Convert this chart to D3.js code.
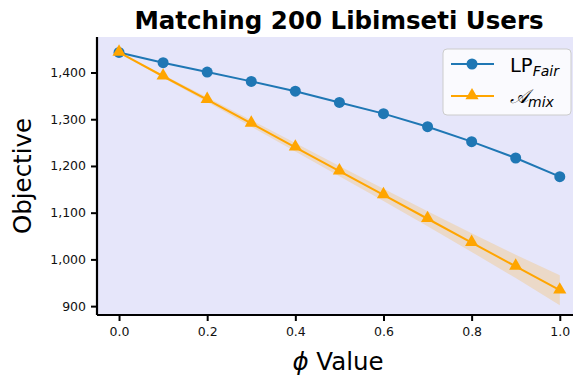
<!DOCTYPE html>
<html>
<head>
<meta charset="utf-8">
<script src="https://cdn.jsdelivr.net/npm/d3@7"></script>
<style>
  body { margin: 0; background: #fff; }
  text { font-family: "DejaVu Sans", sans-serif; }
</style>
</head>
<body>
<svg id="chart" width="575" height="375"></svg>
<script>
// data
const phi = [0.0, 0.1, 0.2, 0.3, 0.4, 0.5, 0.6, 0.7, 0.8, 0.9, 1.0];
const lpFair = [1443, 1421, 1401, 1381, 1360, 1336, 1312, 1284, 1252, 1217, 1177];
const aMix = [1443, 1392, 1342, 1291, 1240, 1189, 1138, 1087, 1036, 985, 934];
const aMixSpread = [0, 3, 5, 7, 9, 11, 13, 16, 20, 25, 32];
const xTicks = [0, 0.2, 0.4, 0.6, 0.8, 1.0];
const yTicks = [900, 1000, 1100, 1200, 1300, 1400];

const width = 575;
const height = 375;
const margin = {top: 37, right: 2, bottom: 60, left: 97};

const svg = d3.select("#chart");

const x = d3.scaleLinear()
    .domain([-0.05, 1.03])
    .range([margin.left, width - margin.right]);

const y = d3.scaleLinear()
    .domain([881, 1476])
    .range([height - margin.bottom, margin.top]);

// plot background
svg.append("rect")
    .attr("x", margin.left)
    .attr("y", margin.top)
    .attr("width", width - margin.left - margin.right)
    .attr("height", height - margin.top - margin.bottom)
    .attr("fill", "#e6e6fa");

// shaded band around A_mix
const band = d3.area()
    .x((d, i) => x(phi[i]))
    .y0((d, i) => y(d - aMixSpread[i]))
    .y1((d, i) => y(d + aMixSpread[i]));

svg.append("path")
    .datum(aMix)
    .attr("d", band)
    .attr("fill", "#ffa500")
    .attr("fill-opacity", 0.2);

const line = d3.line()
    .x((d, i) => x(phi[i]))
    .y(d => y(d));

// LP_Fair
svg.append("path")
    .datum(lpFair)
    .attr("d", line)
    .attr("fill", "none")
    .attr("stroke", "#1f77b4")
    .attr("stroke-width", 2);

svg.selectAll(".dot")
    .data(lpFair)
    .enter().append("circle")
    .attr("cx", (d, i) => x(phi[i]))
    .attr("cy", d => y(d))
    .attr("r", 5.5)
    .attr("fill", "#1f77b4");

// A_mix
svg.append("path")
    .datum(aMix)
    .attr("d", line)
    .attr("fill", "none")
    .attr("stroke", "#ffa500")
    .attr("stroke-width", 2);

const tri = d3.symbol().type(d3.symbolTriangle).size(75);

svg.selectAll(".tri")
    .data(aMix)
    .enter().append("path")
    .attr("d", tri)
    .attr("transform", (d, i) => `translate(${x(phi[i])},${y(d) - 0.5})`)
    .attr("fill", "#ffa500");

// axes
const xAxis = svg.append("g")
    .attr("transform", `translate(0,${height - margin.bottom})`)
    .call(d3.axisBottom(x).tickValues(xTicks).tickFormat(d3.format(".1f")).tickSize(6).tickPadding(6));

const yAxis = svg.append("g")
    .attr("transform", `translate(${margin.left},0)`)
    .call(d3.axisLeft(y).tickValues(yTicks).tickFormat(d3.format(",")).tickSize(6).tickPadding(5));

[xAxis, yAxis].forEach(g => {
    g.select(".domain").attr("stroke", "#000").attr("stroke-width", 2.2);
    g.selectAll(".tick line").attr("stroke", "#000").attr("stroke-width", 2);
    g.selectAll(".tick text").attr("font-size", 12.5).attr("fill", "#111")
        .attr("font-family", "DejaVu Sans");
});
xAxis.select(".domain").attr("d", `M${margin.left},0H${width - margin.right}`);
yAxis.select(".domain").attr("d", `M0,${margin.top}V${height - margin.bottom}`);

// title and labels
svg.append("text")
    .attr("x", 339)
    .attr("y", 29)
    .attr("text-anchor", "middle")
    .attr("font-size", 24.5)
    .attr("font-weight", "bold")
    .text("Matching 200 Libimseti Users");

const xl = svg.append("text")
    .attr("x", 338)
    .attr("y", 370)
    .attr("text-anchor", "middle")
    .attr("font-size", 24.5);
xl.append("tspan").attr("font-style", "italic").text("ϕ");
xl.append("tspan").text(" Value");

svg.append("text")
    .attr("transform", `translate(31,${(margin.top + height - margin.bottom) / 2}) rotate(-90)`)
    .attr("text-anchor", "middle")
    .attr("font-size", 24.5)
    .text("Objective");

// legend
const legend = svg.append("g").attr("transform", "translate(443,49)");
legend.append("rect")
    .attr("width", 128)
    .attr("height", 66)
    .attr("rx", 4)
    .attr("fill", "#fff")
    .attr("fill-opacity", 0.8)
    .attr("stroke", "#ccc");

legend.append("line").attr("x1", 8).attr("x2", 51).attr("y1", 15).attr("y2", 15)
    .attr("stroke", "#1f77b4").attr("stroke-width", 2);
legend.append("circle").attr("cx", 29).attr("cy", 15).attr("r", 5.5).attr("fill", "#1f77b4");

legend.append("line").attr("x1", 8).attr("x2", 51).attr("y1", 47).attr("y2", 47)
    .attr("stroke", "#ffa500").attr("stroke-width", 2);
legend.append("path").attr("d", tri).attr("transform", "translate(29,46.5)").attr("fill", "#ffa500");

const l1 = legend.append("text").attr("x", 67).attr("y", 23).attr("font-size", 19.5);
l1.append("tspan").text("LP");
l1.append("tspan").attr("font-style", "italic").attr("font-size", 14).attr("dy", 4).text("Fair");

const l2 = legend.append("text").attr("x", 67).attr("y", 54).attr("font-size", 19.5);
l2.append("tspan").attr("font-style", "italic").text("𝒜");
l2.append("tspan").attr("font-style", "italic").attr("font-size", 14).attr("dy", 4).text("mix");
</script>
</body>
</html>
